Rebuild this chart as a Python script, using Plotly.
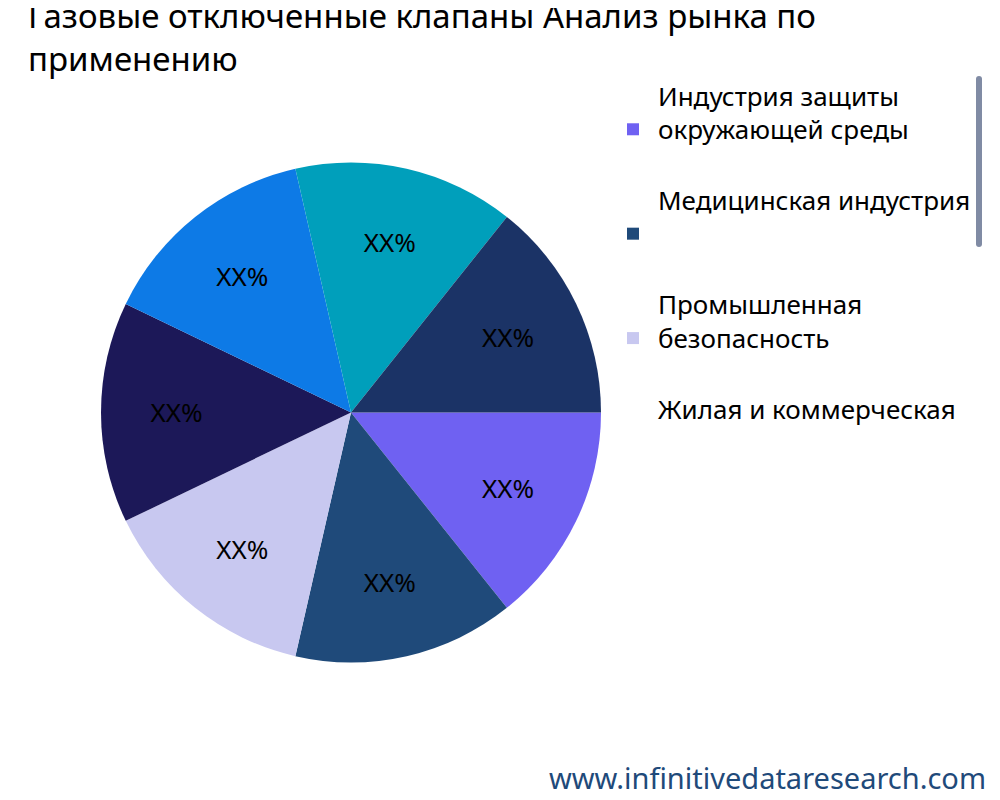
import plotly.graph_objects as go

labels = ["Индустрия защиты<br>окружающей среды<br> ", "Медицинская индустрия<br> <br> ", "Промышленная<br>безопасность<br> ",
          "Жилая и коммерческая<br>безопасность<br> ", "Автомобильная<br>промышленность<br> ",
          "Аэрокосмическая<br> <br> ", "Аэрокосмическая <br> <br> "]
values = [1, 1, 1, 1, 1, 1, 1]
colors = ["#6F61F2", "#1F4A7A", "#C8C8F0", "#1C1858", "#0D7AE6", "#009FBB", "#1B3366"]

fig = go.Figure(go.Pie(
    labels=labels, values=values, sort=False, direction="clockwise", rotation=90,
    marker=dict(colors=colors), text=["XX%"] * 7, textinfo="text", textposition="inside",
    insidetextfont=dict(color="black", size=26), domain=dict(x=[0.093, 0.593], y=[0.182, 0.807]),
    hoverinfo="label"))
fig.update_layout(
    width=1000, height=800, paper_bgcolor="white",
    font=dict(family="Noto Sans", color="black"),
    title=dict(text="Газовые отключенные клапаны Анализ рынка по<br>применению", x=0.02, y=0.975,
               xanchor="left", yanchor="top", font=dict(size=33)),
    margin=dict(l=0, r=0, t=0, b=0),
    legend=dict(x=0.6, y=0.82, xanchor="left", yanchor="top", font=dict(size=26),
                itemwidth=40),
    annotations=[dict(text="www.infinitivedataresearch.com", x=0.98, y=0.038, xref="paper", yref="paper",
                      xanchor="right", yanchor="middle", showarrow=False,
                      font=dict(size=29, color="#1F4A7A"))])
fig.write_html("out.html")
